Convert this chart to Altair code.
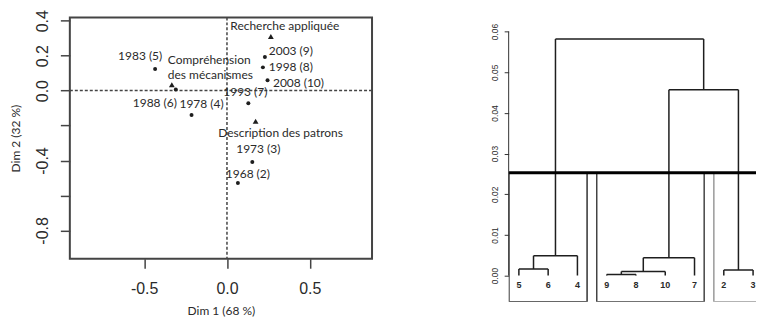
import altair as alt
import pandas as pd

# ---------------- left panel : correspondence analysis map ----------------
year_labels = ["1968 (2)", "1973 (3)", "1978 (4)", "1983 (5)", "1988 (6)",
               "1993 (7)", "1998 (8)", "2003 (9)", "2008 (10)"]
year_dim1 = [0.066, 0.153, -0.214, -0.434, -0.309, 0.129, 0.217, 0.229, 0.245]
year_dim2 = [-0.528, -0.408, -0.139, 0.124, 0.006, -0.072, 0.133, 0.192, 0.059]

theme_labels = ["Compréhension\ndes mécanismes", "Recherche appliquée",
                "Description des patrons"]
theme_dim1 = [-0.333, 0.265, 0.173]
theme_dim2 = [0.033, 0.310, -0.175]

x_ticks = [-0.5, 0.0, 0.5]
y_ticks = [-0.8, -0.6, -0.4, -0.2, 0.0, 0.2, 0.4]
y_unlabelled = [-0.6, -0.2]
x_domain = [-0.949, 0.876]
y_domain = [-0.962, 0.419]

# ---------------- right panel : hierarchical clustering ----------------
leaf_order = ["5", "6", "4", "9", "8", "10", "7", "2", "3"]
merge_a = ["5", "m1", "9", "m3", "m4", "2", "m5", "m2"]
merge_b = ["6", "4", "8", "10", "7", "3", "m6", "m7"]
merge_height = [0.0016, 0.0049, 0.0003, 0.0010, 0.0044, 0.0014, 0.0457, 0.0582]
n_clusters = 3
dendro_ticks = [0.0, 0.01, 0.02, 0.03, 0.04, 0.05, 0.06]
dendro_y_domain = [-0.0064, 0.0635]
dendro_x_domain = [0.651, 9.10]

# label offsets (pixels) for the text of the map
label_style = {
    "1968 (2)": (10, -9, "center"),
    "1973 (3)": (6, -13, "center"),
    "1978 (4)": (10, -11, "center"),
    "1983 (5)": (-15, -13, "center"),
    "1988 (6)": (-21, 13, "center"),
    "1993 (7)": (-3, -11, "center"),
    "1998 (8)": (28, 0, "center"),
    "2003 (9)": (26, -6, "center"),
    "2008 (10)": (31, 3, "center"),
    "Compréhension\ndes mécanismes": (-4, -25, "left"),
    "Recherche appliquée": (14, -10, "center"),
    "Description des patrons": (25, 12, "center"),
}

INK = "#1e1e1e"
TEXT = "#2a2a2a"
LABEL_FONT = "Lato"
AXIS_FONT = "Liberation Sans"

pts = pd.DataFrame({
    "label": year_labels + theme_labels,
    "dim1": year_dim1 + theme_dim1,
    "dim2": year_dim2 + theme_dim2,
    "kind": ["year"] * len(year_labels) + ["theme"] * len(theme_labels),
})
pts["id"] = range(len(pts))


def tick_expr(hidden):
    fmt = "(datum.value < -1e-9 ? '-' : '') + format(abs(datum.value), '.1f')"
    if not hidden:
        return fmt
    cond = " || ".join(f"abs(datum.value - ({h})) < 1e-9" for h in hidden)
    return f"({cond}) ? '' : {fmt}"


common_axis = dict(grid=False, domain=False, tickSize=9.5, tickWidth=1.5, tickColor="#444",
                   labelFontSize=16, labelFont=AXIS_FONT, labelColor=TEXT,
                   titleFontSize=12, titleFont=LABEL_FONT, titleFontWeight="normal",
                   titleColor=TEXT)

x_enc = alt.X("dim1:Q", scale=alt.Scale(domain=x_domain, nice=False, zero=False),
              axis=alt.Axis(values=x_ticks, labelExpr=tick_expr([]),
                            labelPadding=12, titlePadding=9, **common_axis),
              title="Dim 1 (68 %)")
y_enc = alt.Y("dim2:Q", scale=alt.Scale(domain=y_domain, nice=False, zero=False),
              axis=alt.Axis(values=y_ticks, labelExpr=tick_expr(y_unlabelled),
                            labelAngle=270, labelAlign="center", labelBaseline="bottom",
                            labelPadding=10, titlePadding=12, **common_axis),
              title="Dim 2 (32 %)")

base = alt.Chart(pts).encode(x=x_enc, y=y_enc)

zero_df = pd.DataFrame({"v": [0.0]})
vline = alt.Chart(zero_df).mark_rule(color="#444", strokeWidth=1.5, strokeDash=[3, 2]).encode(
    x=alt.X("v:Q"))
hline = alt.Chart(zero_df).mark_rule(color="#444", strokeWidth=1.5, strokeDash=[3, 2]).encode(
    y=alt.Y("v:Q"))

dots = base.transform_filter(alt.datum.kind == "year").mark_point(
    shape="circle", filled=True, size=16, color=INK, opacity=1)
tris = base.transform_filter(alt.datum.kind == "theme").mark_point(
    shape="triangle-up", filled=True, size=34, color=INK, opacity=1)

texts = []
for i, lab in enumerate(pts["label"]):
    dx, dy, al = label_style[lab]
    texts.append(
        base.transform_filter(alt.datum.id == i).mark_text(
            dx=dx, dy=dy, align=al, baseline="middle", font=LABEL_FONT, fontSize=12,
            color=TEXT, lineBreak="\n", lineHeight=15.5).encode(text="label:N"))

left = alt.layer(vline, hline, dots, tris, *texts).properties(
    width=303, height=242,
    view=alt.ViewBackground(stroke="#444", strokeWidth=2))

# ---- dendrogram geometry from the merge list ----
pos = {leaf: i + 1 for i, leaf in enumerate(leaf_order)}
hgt = {leaf: 0.0 for leaf in leaf_order}
members = {leaf: [leaf] for leaf in leaf_order}
segs = []
for k, (a, b, h) in enumerate(zip(merge_a, merge_b, merge_height)):
    name = f"m{k + 1}"
    pos[name] = (pos[a] + pos[b]) / 2
    hgt[name] = h
    members[name] = members[a] + members[b]
    segs.append({"x": pos[a], "x2": pos[b], "y": h, "y2": h})
    segs.append({"x": pos[a], "x2": pos[a], "y": hgt[a], "y2": h})
    segs.append({"x": pos[b], "x2": pos[b], "y": hgt[b], "y2": h})
seg_df = pd.DataFrame(segs)

# clusters for k groups: remove the k-1 highest merges
names = [f"m{k + 1}" for k in range(len(merge_height))]
top = names[len(names) - (n_clusters - 1):]
roots = [c for m in top for c in (merge_a[names.index(m)], merge_b[names.index(m)])
         if c not in top]
hs = sorted(merge_height, reverse=True)
cut_h = (hs[n_clusters - 2] + hs[n_clusters - 1]) / 2
rects = []
for r in roots:
    xs = [pos[m] for m in members[r]]
    rects.append({"x": min(xs) - 0.34, "x2": max(xs) + 0.33,
                  "y": dendro_y_domain[0], "y2": cut_h})
rect_df = pd.DataFrame(rects).sort_values("x")
rect_df["cl"] = [f"g{i}" for i in range(len(rect_df))]

leaf_df = pd.DataFrame({"leaf": leaf_order, "x": [pos[l] for l in leaf_order],
                        "y": [0.0] * len(leaf_order)})

dx_scale = alt.Scale(domain=dendro_x_domain, nice=False, zero=False)
dy_scale = alt.Scale(domain=dendro_y_domain, nice=False, zero=False)

dy_axis = alt.Axis(values=dendro_ticks, format=".2f", grid=False, domain=False,
                   tickSize=4.5, tickWidth=1, tickColor="#333", labelFontSize=8.5,
                   labelFont=AXIS_FONT, labelColor=TEXT, labelAngle=270,
                   labelAlign="center", labelBaseline="bottom", labelPadding=5)

tree = alt.Chart(seg_df).mark_rule(color=INK, strokeWidth=1.5, clip=True).encode(
    x=alt.X("x:Q", scale=dx_scale, axis=None),
    x2="x2:Q",
    y=alt.Y("y:Q", scale=dy_scale, axis=dy_axis, title=None),
    y2="y2:Q")

boxes = alt.Chart(rect_df).mark_rect(fillOpacity=0, strokeWidth=1.5, clip=True).encode(
    x=alt.X("x:Q", scale=dx_scale, axis=None), x2="x2:Q",
    y=alt.Y("y:Q", scale=dy_scale, axis=dy_axis, title=None), y2="y2:Q",
    stroke=alt.Stroke("cl:N", scale=alt.Scale(domain=["g0", "g1", "g2"],
                                              range=["#333333", "#444444", "#9a9a9a"]),
                      legend=None))

cut_df = pd.DataFrame({"h": [cut_h]})
cut = alt.Chart(cut_df).mark_rule(color="#000", strokeWidth=3, clip=True).encode(
    y=alt.Y("h:Q", scale=dy_scale, axis=dy_axis, title=None))

axis_df = pd.DataFrame({"x": [dendro_x_domain[0]], "y": [dendro_ticks[0]],
                        "y2": [dendro_ticks[-1]]})
axis_line = alt.Chart(axis_df).mark_rule(color="#333", strokeWidth=1).encode(
    x=alt.X("x:Q", scale=dx_scale, axis=None),
    y=alt.Y("y:Q", scale=dy_scale, axis=dy_axis, title=None), y2="y2:Q")

leaves = alt.Chart(leaf_df).mark_text(dy=9, font=AXIS_FONT, fontSize=9, fontWeight="bold",
                                      color=TEXT, baseline="middle").encode(
    x=alt.X("x:Q", scale=dx_scale, axis=None),
    y=alt.Y("y:Q", scale=dy_scale, axis=dy_axis, title=None),
    text="leaf:N")

right = alt.layer(boxes, tree, cut, axis_line, leaves).properties(
    width=248, height=285,
    view=alt.ViewBackground(stroke="transparent", strokeWidth=0))

chart = alt.hconcat(left, right, spacing=137, bounds="flush").properties(
    padding={"left": 0, "top": 0, "right": 0, "bottom": 0},
    background="white")

chart.save("out.html", embed_options={"renderer": "svg", "actions": False})
